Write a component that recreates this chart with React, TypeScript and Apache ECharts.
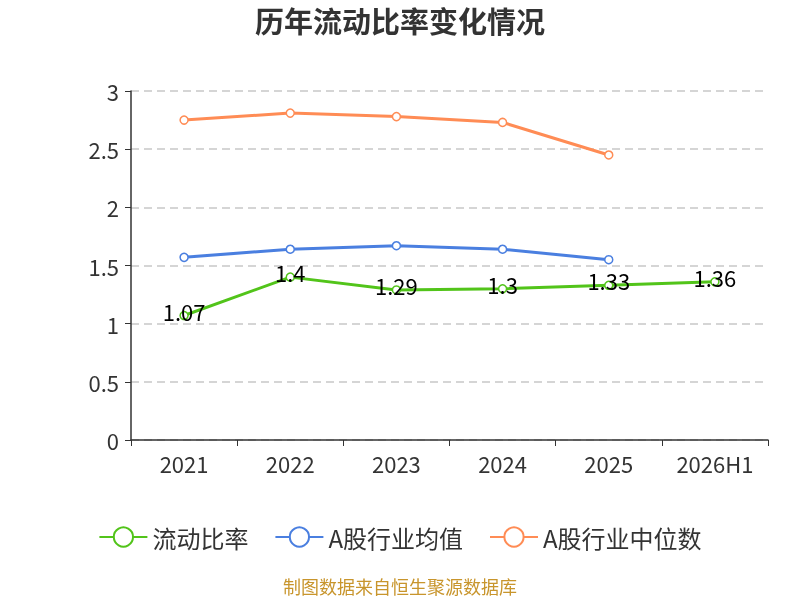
import React, { useEffect, useRef } from "react";
import * as echarts from "echarts";

const categories = ["2021", "2022", "2023", "2024", "2025", "2026H1"];
const currentRatio = [1.07, 1.4, 1.29, 1.3, 1.33, 1.36];
const industryMean = [1.57, 1.64, 1.67, 1.64, 1.55, null];
const industryMedian = [2.75, 2.81, 2.78, 2.73, 2.45, null];

const FONT = "'Noto Sans CJK SC', 'Noto Sans', sans-serif";

export default function App() {
  const ref = useRef<HTMLDivElement>(null);
  useEffect(() => {
    if (!ref.current) return;
    const chart = echarts.init(ref.current, undefined, { renderer: "svg" });
    chart.setOption({
      animation: false,
      textStyle: { fontFamily: FONT },
      title: {
        text: "历年流动比率变化情况",
        left: "center",
        top: 0,
        textStyle: { fontSize: 29, fontWeight: "bold", color: "#333", fontFamily: FONT },
      },
      grid: { left: 131, right: 32, top: 91, bottom: 160 },
      legend: {
        top: 520,
        left: "center",
        itemWidth: 48,
        itemHeight: 24,
        itemGap: 26,
        textStyle: { fontSize: 24, color: "#333", fontFamily: FONT },
        data: ["流动比率", "A股行业均值", "A股行业中位数"],
      },
      graphic: [
        {
          type: "text",
          left: "center",
          top: 577,
          style: { text: "制图数据来自恒生聚源数据库", fill: "#c8952c", fontSize: 18, fontFamily: FONT },
        },
      ],
      xAxis: {
        type: "category",
        data: categories,
        boundaryGap: true,
        axisLine: { lineStyle: { color: "#333", width: 1.5 } },
        axisTick: { show: true, length: 6, lineStyle: { color: "#333" } },
        axisLabel: { fontSize: 22, color: "#333", margin: 12, fontFamily: FONT },
      },
      yAxis: {
        type: "value",
        min: 0,
        max: 3,
        interval: 0.5,
        axisLine: { show: true, lineStyle: { color: "#333", width: 1.5 } },
        axisTick: { show: true, length: 6, lineStyle: { color: "#333" } },
        axisLabel: { fontSize: 22, color: "#333", margin: 12, fontFamily: FONT },
        splitLine: { show: true, lineStyle: { type: [8, 5], color: "#c8c8c8", width: 1.5 } },
      },
      series: [
        {
          name: "流动比率",
          type: "line",
          data: currentRatio,
          color: "#52c41a",
          symbol: "circle",
          symbolSize: 8,
          itemStyle: { color: "#fff", borderColor: "#52c41a", borderWidth: 1.5 },
          lineStyle: { color: "#52c41a", width: 3 },
          label: {
            show: true,
            position: "inside",
            offset: [0, -5],
            fontSize: 22,
            color: "#000",
            fontFamily: FONT,
          },
          z: 3,
        },
        {
          name: "A股行业均值",
          type: "line",
          data: industryMean,
          color: "#4a7fe0",
          symbol: "circle",
          symbolSize: 8,
          itemStyle: { color: "#fff", borderColor: "#4a7fe0", borderWidth: 1.5 },
          lineStyle: { color: "#4a7fe0", width: 3 },
          z: 2,
        },
        {
          name: "A股行业中位数",
          type: "line",
          data: industryMedian,
          color: "#ff8c55",
          symbol: "circle",
          symbolSize: 8,
          itemStyle: { color: "#fff", borderColor: "#ff8c55", borderWidth: 1.5 },
          lineStyle: { color: "#ff8c55", width: 3 },
          z: 2,
        },
      ],
    });
    return () => chart.dispose();
  }, []);
  return (
    <div
      ref={ref}
      style={{ position: "fixed", left: 0, top: 0, width: 800, height: 600 }}
    />
  );
}
